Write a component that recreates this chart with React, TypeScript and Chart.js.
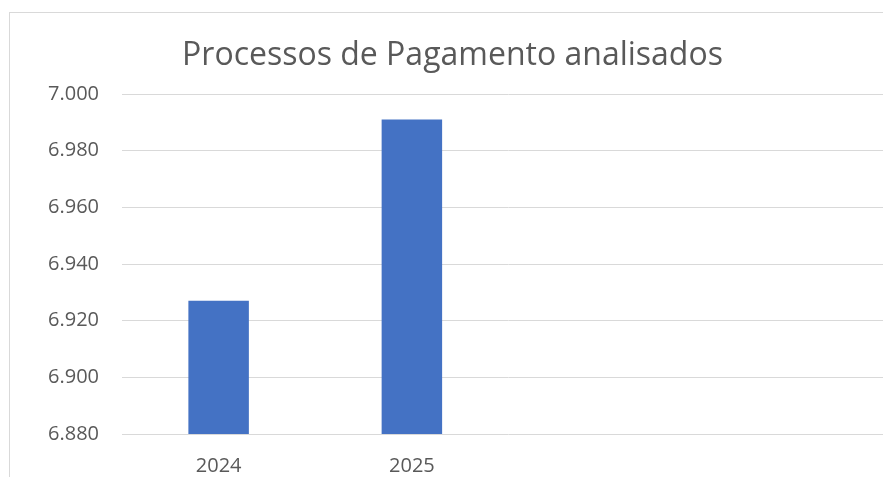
import React, { useEffect, useRef } from "react";
import { Chart, registerables } from "chart.js";

Chart.register(...registerables);

const categories = ["2024", "2025", "", ""];
const values = [6927, 6991, null, null];
const yMin = 6880;
const yMax = 7000;
const yStep = 20;
const title = "Processos de Pagamento analisados";

const fmt = (v: number) => {
  const s = Math.round(v).toString();
  return s.replace(/\B(?=(\d{3})+(?!\d))/g, ".");
};

export default function App() {
  const ref = useRef<HTMLCanvasElement | null>(null);
  useEffect(() => {
    if (!ref.current) return;
    const chart = new Chart(ref.current, {
      type: "bar",
      data: {
        labels: categories,
        datasets: [
          {
            data: values,
            backgroundColor: "#4472C4",
            borderWidth: 0,
            barPercentage: 0.313,
            categoryPercentage: 1,
          },
        ],
      },
      options: {
        animation: false,
        responsive: false,
        maintainAspectRatio: false,
        layout: { padding: 0 },
        plugins: {
          legend: { display: false },
          tooltip: { enabled: false },
          title: {
            display: true,
            text: title,
            color: "#595959",
            font: { family: "'Open Sans'", size: 32, weight: "normal" },
            padding: { top: 24, bottom: 18.6 },
          },
        },
        scales: {
          x: {
            grid: { display: false, drawTicks: false },
            border: { display: false },
            ticks: {
              color: "#595959",
              font: { family: "'Open Sans'", size: 20 },
              padding: 20,
              maxRotation: 0,
              autoSkip: false,
            },
            afterFit: (s: any) => {
              s.height = 43;
            },
          },
          y: {
            min: yMin,
            max: yMax,
            grid: { color: "#d9d9d9", lineWidth: 1, drawTicks: false },
            border: { display: false },
            ticks: {
              stepSize: yStep,
              color: "#595959",
              font: { family: "'Open Sans'", size: 20 },
              padding: 23,
              callback: (v: any) => fmt(Number(v)),
            },
            afterFit: (s: any) => {
              s.width = 112;
            },
          },
        },
      },
    });
    return () => chart.destroy();
  }, []);

  return (
    <div
      style={{
        position: "fixed",
        left: 0,
        top: 0,
        width: 883,
        height: 477,
        overflow: "hidden",
        background: "#ffffff",
      }}
    >
      <div
        style={{
          position: "absolute",
          left: 9,
          top: 12,
          width: 900,
          height: 520,
          border: "1px solid #d9d9d9",
          boxSizing: "border-box",
        }}
      />
      <canvas
        ref={ref}
        width={885}
        height={464}
        style={{ position: "absolute", left: 10, top: 13, width: 885, height: 464 }}
      />
    </div>
  );
}
